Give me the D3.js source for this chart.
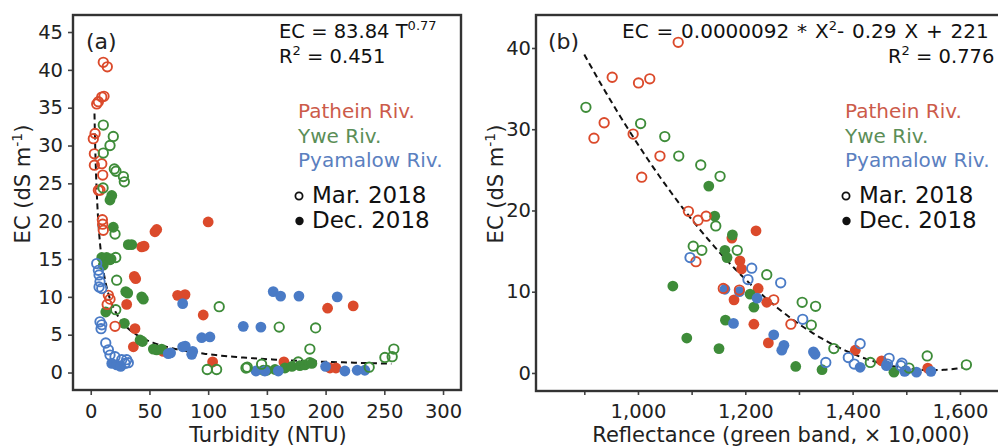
<!DOCTYPE html>
<html><head><meta charset="utf-8">
<script src="https://cdn.jsdelivr.net/npm/d3@7"></script>
<style>
html,body{margin:0;padding:0;background:#fff;}
text{font-family:"DejaVu Sans",sans-serif;}
</style></head>
<body>
<svg id="c" width="998" height="448"></svg>
<script>
// ---------- DATA ----------
const rivers = ["Pathein Riv.", "Ywe Riv.", "Pyamalow Riv."];
const seasons = ["Mar. 2018", "Dec. 2018"];
const riverColors = ["#db4a2b", "#3e8c39", "#4a7bc6"];
const riverTextColors = ["#cc5b4a", "#5b8e57", "#5b80bf"];

// Panel (a): [Turbidity (NTU), EC (dS m-1)]
const turbPatheinMar = [[10.7,41.0],[14.1,40.4],[9.4,36.4],[11.3,36.5],[6.5,35.8],[5.1,35.5],[3.7,31.6],[2.2,30.9],[3.1,28.9],[3.1,27.4],[9.4,27.6],[10.2,26.1],[6.5,24.1],[7.9,24.1],[9.9,20.2],[10.2,19.6],[10.7,18.8],[15,10.2],[16.4,9.7],[14.0,9.0],[20.7,6.1]];
const turbPatheinDec = [[100,19.9],[54.7,18.6],[56.2,18.9],[43.4,16.6],[45.4,16.7],[37.1,12.7],[38.3,12.4],[30.6,9.0],[37.7,5.8],[36.3,3.4],[61.8,2.8],[74,10.2],[80.3,10.3],[95.8,7.6],[103.8,1.4],[201.7,8.5],[223.5,8.8],[164.5,1.4],[203.7,0.6],[208.8,0.6]];
const turbYweMar = [[10.7,32.7],[19.2,31.2],[16.4,30.0],[10.7,29.0],[20.1,26.9],[21.5,26.6],[27.8,25.9],[28.6,25.2],[10.5,24.4],[20.7,18.3],[21.3,15.2],[22.1,12.2],[21.3,8.3],[109.4,8.7],[99.2,0.4],[107.2,0.4],[132.2,0.6],[133.3,0.7],[145.5,1.1],[160.5,6.0],[191.5,5.9],[186.6,3.1],[176.7,1.4],[186.6,1.3],[237.1,0.7],[250.5,2.0],[256.7,2.1],[258.1,3.1]];
const turbYweDec = [[17.9,23.4],[16.4,22.8],[19.2,19.2],[32,16.9],[34.9,16.9],[9.4,15.2],[13.6,15.2],[16.4,14.9],[10.7,14.2],[17.3,15.0],[29.8,10.7],[31.5,10.5],[44.8,9.7],[43.4,10.0],[12.8,8.0],[28.6,6.5],[42,4.3],[44,4.1],[53.3,3.1],[56.2,3.0],[60.4,3.1],[146.9,0.3],[150,0.3],[156.9,0.4],[165.4,0.6],[171.3,0.8],[178.1,0.9],[182.4,1.0],[188.3,1.2]];
const turbPyamalowMar = [[5.1,14.4],[6.5,13.5],[7.1,12.9],[7.9,12.0],[7.1,11.3],[9.4,11.1],[7.9,6.7],[9.4,6.3],[8.8,5.8],[12.8,3.9],[15,3.0],[16.4,2.3],[20.7,2.1],[26.4,1.7],[30.6,1.7],[29.2,1.2],[32,1.3]];
const turbPyamalowDec = [[17.9,1.2],[22.1,1.0],[25.5,0.8],[66,2.5],[68,2.6],[78.3,3.4],[80.5,3.5],[86.8,2.8],[86,2.4],[78.3,9.1],[94.5,4.6],[101.5,4.7],[129.9,6.1],[144.9,6.0],[155.4,10.7],[161.7,10.1],[177.3,10.1],[209.9,10.0],[140.7,0.2],[148.3,0.2],[159.7,0.2],[200,0.8],[216.4,0.2],[226.9,0.3],[233.4,0.3]];

// Panel (b): [Reflectance (green band x 10,000), EC (dS m-1)]
const reflPatheinMar = [[1075,40.7],[952,36.4],[1001,35.7],[1022,36.2],[937,30.8],[918,28.9],[991,29.4],[1041,26.7],[1007,24.1],[1094,19.9],[1112,18.8],[1127,19.3],[1108,13.7],[1159,10.4],[1189,10.2],[1253,9.0],[1285,6.0]];
const reflPatheinDec = [[1175,16.6],[1220,17.5],[1190,13.8],[1193,12.8],[1179,9.0],[1224,10.4],[1240,8.7],[1216,6.0],[1243,3.7],[1405,2.8],[1454,1.5],[1540,0.6]];
const reflYweMar = [[903,32.7],[1005,30.7],[1050,29.1],[1076,26.7],[1117,25.6],[1153,24.2],[1145,18.1],[1103,15.6],[1119,15.1],[1185,15.1],[1240,12.1],[1306,8.7],[1331,8.2],[1323,5.9],[1365,3.0],[1433,1.3],[1505,0.6],[1539,2.1],[1612,1.0]];
const reflYweDec = [[1132,23.0],[1143,19.3],[1176,17.0],[1162,15.1],[1166,14.2],[1065,10.7],[1209,9.7],[1216,8.1],[1163,6.5],[1091,4.3],[1151,3.0],[1294,0.8],[1343,0.4],[1477,0.1]];
const reflPyamalowMar = [[1097,14.2],[1212,12.9],[1205,11.5],[1266,11.1],[1307,6.6],[1350,1.3],[1392,1.9],[1403,1.1],[1414,3.6],[1468,1.8],[1465,1.1],[1492,1.2],[1490,0.9]];
const reflPyamalowDec = [[1162,10.3],[1189,10.0],[1222,9.2],[1178,6.1],[1253,4.7],[1272,3.4],[1268,2.8],[1327,2.6],[1330,2.3],[1414,0.7],[1463,0.9],[1497,0.2],[1499,0.3],[1519,0.1],[1546,0.2]];

// Fits
const fitACoef = [83.84, -0.77];           // EC = a * T^b
const fitARange = [3.2, 256];
const fitBCoef = [9.26e-5, -0.28664, 222.168]; // EC = a X^2 + b X + c (as drawn)
const fitBRange = [900, 1605];

const ticksAX = [0,50,100,150,200,250,300];
const ticksAY = [0,5,10,15,20,25,30,35,40,45];
const ticksBX = [900,1000,1100,1200,1300,1400,1500,1600];
const ticksBY = [0,10,20,30,40];

// ---------- DRAW ----------
const svg = d3.select("#c");
const FRAME = "#333";

function panel(cfg){
  const g = svg.append("g");
  const x = d3.scaleLinear().domain(cfg.xDom).range([cfg.x0, cfg.x1]);
  const y = d3.scaleLinear().domain(cfg.yDom).range([cfg.y1, cfg.y0]);

  const ya = g.append("g").attr("transform", `translate(${cfg.x0},0)`)
    .call(d3.axisLeft(y).tickValues(cfg.yTicks).tickSize(cfg.yTickSize).tickPadding(cfg.yPad).tickFormat(d3.format("d")));
  const xa = g.append("g").attr("transform", `translate(0,${cfg.y1})`)
    .call(d3.axisBottom(x).tickValues(cfg.xTicks).tickSize(cfg.xTickSize).tickPadding(cfg.xPad).tickFormat(cfg.xFmt));
  [ya, xa].forEach(a => {
    a.select(".domain").remove();
    a.selectAll(".tick line").attr("stroke", "#444").attr("stroke-width", 1.6);
    a.selectAll(".tick text").attr("fill", "#222").style("font-size", "19.5px").style("font-family", "DejaVu Sans");
  });

  const cid = "clip" + cfg.id;
  svg.append("clipPath").attr("id", cid).append("rect")
    .attr("x", cfg.x0).attr("y", cfg.y0).attr("width", cfg.x1 - cfg.x0).attr("height", cfg.y1 - cfg.y0);
  const inner = g.append("g").attr("clip-path", `url(#${cid})`);

  inner.append("path").datum(cfg.fit)
    .attr("d", d3.line().x(d => x(d[0])).y(d => y(d[1])))
    .attr("fill", "none").attr("stroke", "#111").attr("stroke-width", 2)
    .attr("stroke-dasharray", "6,4");

  cfg.series.forEach(s => {
    if (s.season !== 1) return;
    inner.selectAll(null).data(s.data).enter().append("circle")
      .attr("cx", d => x(d[0])).attr("cy", d => y(d[1])).attr("r", 5.4)
      .attr("fill", riverColors[s.river]).attr("stroke", "none");
  });
  cfg.series.forEach(s => {
    if (s.season !== 0) return;
    inner.selectAll(null).data(s.data).enter().append("circle")
      .attr("cx", d => x(d[0])).attr("cy", d => y(d[1])).attr("r", 4.7)
      .attr("fill", "none").attr("stroke", riverColors[s.river]).attr("stroke-width", 1.9);
  });

  g.append("rect").attr("x", cfg.x0).attr("y", cfg.y0)
    .attr("width", cfg.x1 - cfg.x0).attr("height", cfg.y1 - cfg.y0)
    .attr("fill", "none").attr("stroke", FRAME).attr("stroke-width", 2.4);

  g.append("text").attr("x", cfg.labX).attr("y", 49).text(cfg.label)
    .style("font-size", "22px").attr("fill", "#222");

  g.append("text").attr("x", cfg.xtX).attr("y", 442).attr("text-anchor", "middle")
    .style("font-size", "21px").attr("fill", "#222").text(cfg.xTitle);
  const yt = g.append("text").attr("transform", `translate(${cfg.ytX},184) rotate(-90)`)
    .attr("text-anchor", "middle").style("font-size", "21px").attr("fill", "#222");
  yt.append("tspan").text("EC (dS m");
  yt.append("tspan").text("-1").attr("dy", -8).style("font-size", "14px");
  yt.append("tspan").text(")").attr("dy", 8);

  rivers.forEach((r, i) => {
    g.append("text").attr("x", cfg.legX).attr("y", 118 + i * 24.5)
      .style("font-size", "20px").attr("fill", riverTextColors[i]).text(r);
  });
  g.append("circle").attr("cx", cfg.legX + 1).attr("cy", 196).attr("r", 3.6)
    .attr("fill", "none").attr("stroke", "#111").attr("stroke-width", 1.8);
  g.append("text").attr("x", cfg.legX + 14).attr("y", 203).style("font-size", "23px").attr("fill", "#111").text(seasons[0]);
  g.append("circle").attr("cx", cfg.legX + 1.5).attr("cy", 221).attr("r", 4.2).attr("fill", "#111");
  g.append("text").attr("x", cfg.legX + 14).attr("y", 228).style("font-size", "23px").attr("fill", "#111").text(seasons[1]);

  return {g, x, y};
}

const fitA = d3.range(0, 201).map(i => {
  const t = Math.exp(Math.log(fitARange[0]) + (Math.log(fitARange[1]) - Math.log(fitARange[0])) * i / 200);
  return [t, fitACoef[0] * Math.pow(t, fitACoef[1])];
});
const fitB = d3.range(0, 201).map(i => {
  const X = fitBRange[0] + (fitBRange[1] - fitBRange[0]) * i / 200;
  return [X, fitBCoef[0] * X * X + fitBCoef[1] * X + fitBCoef[2]];
});

const pA = panel({
  id: "a", x0: 73, x1: 461, y0: 15, y1: 390,
  xDom: [-15.1, 315.3], yDom: [-2.31, 47.25],
  xTicks: ticksAX, yTicks: ticksAY, xFmt: d3.format("d"),
  yTickSize: 5, yPad: 5, xTickSize: 5, xPad: 9,
  fit: fitA,
  series: [
    {river:0, season:0, data:turbPatheinMar},{river:0, season:1, data:turbPatheinDec},
    {river:1, season:0, data:turbYweMar},{river:1, season:1, data:turbYweDec},
    {river:2, season:0, data:turbPyamalowMar},{river:2, season:1, data:turbPyamalowDec}],
  label: "(a)", labX: 86, xTitle: "Turbidity (NTU)", xtX: 268, ytX: 30, legX: 298
});
const pB = panel({
  id: "b", x0: 536, x1: 1012, y0: 15, y1: 391,
  xDom: [810, 1697], yDom: [-2.22, 44.06],
  xTicks: ticksBX, yTicks: ticksBY, xFmt: d => (d % 200 === 0 ? d3.format(",")(d) : ""),
  yTickSize: 4, yPad: 1, xTickSize: 4, xPad: 9.5,
  fit: fitB,
  series: [
    {river:0, season:0, data:reflPatheinMar},{river:0, season:1, data:reflPatheinDec},
    {river:1, season:0, data:reflYweMar},{river:1, season:1, data:reflYweDec},
    {river:2, season:0, data:reflPyamalowMar},{river:2, season:1, data:reflPyamalowDec}],
  label: "(b)", labX: 548, xTitle: "Reflectance (green band, \u00d7 10,000)", xtX: 781, ytX: 503, legX: 845
});

const eqA = pA.g.append("text").attr("x", 279).attr("y", 38).style("font-size", "19.5px").attr("fill", "#111");
eqA.append("tspan").text("EC = 83.84 T");
eqA.append("tspan").text("0.77").attr("dy", -8).style("font-size", "13px");
const r2A = pA.g.append("text").attr("x", 279).attr("y", 63).style("font-size", "19.5px").attr("fill", "#111");
r2A.append("tspan").text("R");
r2A.append("tspan").text("2").attr("dy", -8).style("font-size", "13px");
r2A.append("tspan").text(" = 0.451").attr("dy", 8);

const eqB = pB.g.append("text").attr("x", 622).attr("y", 38).style("font-size", "20px")
  .style("word-spacing", "1.5px").attr("fill", "#111");
eqB.append("tspan").text("EC = 0.0000092 * X");
eqB.append("tspan").text("2").attr("dy", -8).style("font-size", "13px");
eqB.append("tspan").text("- 0.29 X + 221").attr("dy", 8);
const r2B = pB.g.append("text").attr("x", 888).attr("y", 63).style("font-size", "19.5px").attr("fill", "#111");
r2B.append("tspan").text("R");
r2B.append("tspan").text("2").attr("dy", -8).style("font-size", "13px");
r2B.append("tspan").text(" = 0.776").attr("dy", 8);
</script>
</body></html>
